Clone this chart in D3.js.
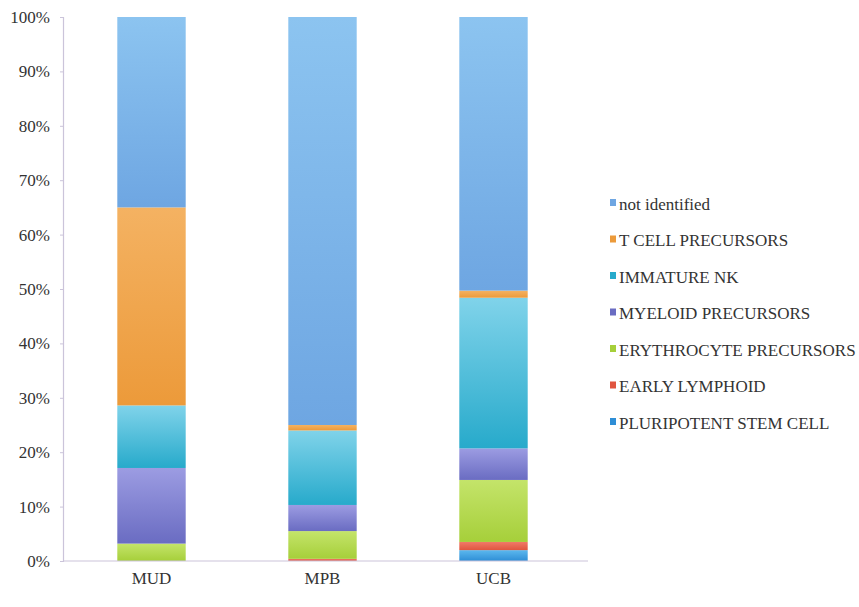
<!DOCTYPE html>
<html>
<head>
<meta charset="utf-8">
<script src="https://cdn.jsdelivr.net/npm/d3@7"></script>
<style>
  html, body { margin: 0; padding: 0; background: #ffffff; }
  svg { display: block; }
  svg text { font-family: "Liberation Serif", "Times New Roman", Tinos, "DejaVu Serif", "Noto Serif", serif !important; fill: #333333; }
</style>
</head>
<body>
<svg id="chart" width="859" height="607"></svg>
<script>
// Sources of the graft
const categories = ["MUD", "MPB", "UCB"];

// Stack order, bottom to top
const seriesNames = [
  "PLURIPOTENT STEM CELL",
  "EARLY LYMPHOID",
  "ERYTHROCYTE PRECURSORS",
  "MYELOID PRECURSORS",
  "IMMATURE NK",
  "T CELL PRECURSORS",
  "not identified"
];

// Percentage of cells per series, one value per category (MUD, MPB, UCB)
const pluripotent   = [0.0, 0.0, 2.0];
const earlyLymphoid = [0.0, 0.4, 1.5];
const erythrocyte   = [3.2, 5.1, 11.4];
const myeloid       = [13.9, 4.8, 5.8];
const immatureNK    = [11.5, 13.7, 27.7];
const tCell         = [36.4, 1.0, 1.3];
const notIdentified = [35.0, 75.0, 50.3];

const seriesValues = [pluripotent, earlyLymphoid, erythrocyte, myeloid, immatureNK, tCell, notIdentified];

const yTicks = [0, 10, 20, 30, 40, 50, 60, 70, 80, 90, 100];

// Top / bottom shades of each segment's vertical gradient
const colorTop = ["#5cb8ee", "#f07a68", "#c4e46a", "#9c9ce2", "#80d3ea", "#f4b262", "#8cc4f0"];
const colorBot = ["#2e8ed6", "#e0553f", "#a6cf3a", "#6a6cc2", "#27aacb", "#ec9a3a", "#6ea6e2"];

const svg = d3.select("#chart");
const defs = svg.append("defs");
seriesNames.forEach((n, i) => {
  const g = defs.append("linearGradient")
    .attr("id", "grad" + i)
    .attr("x1", 0).attr("y1", 0).attr("x2", 0).attr("y2", 1);
  g.append("stop").attr("offset", "0%").attr("stop-color", colorTop[i]);
  g.append("stop").attr("offset", "100%").attr("stop-color", colorBot[i]);
});

const x = d3.scaleBand()
  .domain(categories)
  .range([66, 579])
  .paddingInner(0.6)
  .paddingOuter(0.3);

const y = d3.scaleLinear().domain([0, 100]).range([561, 17]);

// Build rows for d3.stack
const rows = categories.map((c, ci) => {
  const r = { cat: c };
  seriesNames.forEach((s, si) => { r[s] = seriesValues[si][ci]; });
  return r;
});
const stacked = d3.stack().keys(seriesNames)(rows);

// Y axis
const yAxis = d3.axisLeft(y)
  .tickValues(yTicks)
  .tickFormat(d => d + "%")
  .tickSize(3)
  .tickPadding(10);
const gy = svg.append("g").attr("transform", "translate(63,0)").call(yAxis);
gy.attr("font-family", null);
gy.select(".domain").attr("stroke", "#cbc4da").attr("stroke-width", 1.2);
gy.selectAll(".tick line").attr("stroke", "#cbc4da");
gy.selectAll(".tick text")
  .style("font-size", "17px")
  .attr("fill", "#333333");

// Bars
stacked.forEach((layer, li) => {
  svg.append("g")
    .selectAll("rect")
    .data(layer)
    .join("rect")
    .attr("x", d => x(d.data.cat))
    .attr("width", x.bandwidth())
    .attr("y", d => y(d[1]))
    .attr("height", d => Math.max(0, y(d[0]) - y(d[1])))
    .attr("fill", "url(#grad" + li + ")");
});

// Baseline
svg.append("line")
  .attr("x1", 63).attr("x2", 588)
  .attr("y1", y(0)).attr("y2", y(0))
  .attr("stroke", "#cbc4da").attr("stroke-width", 1.2);

// Category labels
const xAxis = d3.axisBottom(x).tickSize(0).tickPadding(11);
const gx = svg.append("g").attr("transform", `translate(0,${y(0)})`).call(xAxis);
gx.attr("font-family", null);
gx.select(".domain").remove();
gx.selectAll(".tick text")
  .style("font-size", "17px")
  .attr("fill", "#333333");

// Legend, top entry first
const legendOrder = seriesNames.map((n, i) => i).reverse();
const legend = svg.append("g").attr("transform", "translate(610,206)");
legendOrder.forEach((si, k) => {
  const row = legend.append("g").attr("transform", `translate(0,${k * 36.5})`);
  row.append("rect")
    .attr("x", 0).attr("y", -7).attr("width", 6).attr("height", 7)
    .attr("fill", colorBot[si]);
  row.append("text")
    .attr("x", 9).attr("y", 0)
    .attr("dominant-baseline", "middle")
    .style("font-size", "17px")
    .text(seriesNames[si]);
});
</script>
</body>
</html>
